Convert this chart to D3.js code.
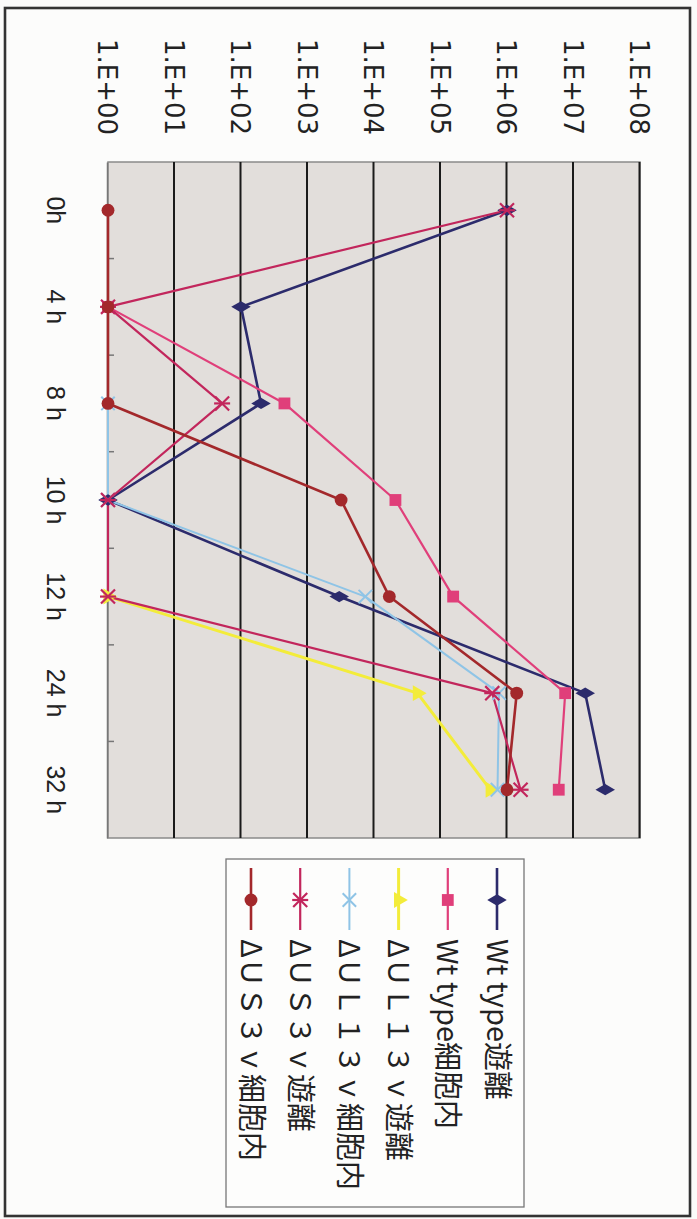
<!DOCTYPE html>
<html lang="ja">
<head>
<meta charset="utf-8">
<title>Log growth chart</title>
<script src="https://d3js.org/d3.v7.min.js"></script>
<style>
  body { margin: 0; background: #fbfbfa; }
  svg text { font-family: "Noto Sans CJK JP", "Noto Sans", sans-serif; fill: #222; }
  svg .axis text { font-family: "DejaVu Sans", sans-serif; }
  svg .cat text { font-family: "Liberation Sans", Arial, sans-serif; }
</style>
</head>
<body>
<svg width="697" height="1219"></svg>
<script>
// data
const categories = ["0h", "4 h", "8 h", "10 h", "12 h", "24 h", "32 h"];
const yTickValues = [1, 1e1, 1e2, 1e3, 1e4, 1e5, 1e6, 1e7, 1e8];
const yTickLabels = ["1.E+00", "1.E+01", "1.E+02", "1.E+03", "1.E+04", "1.E+05", "1.E+06", "1.E+07", "1.E+08"];
const seriesNames = ["Wt type遊離", "Wt type細胞内", "ΔＵＬ１３ｖ遊離", "ΔＵＬ１３ｖ細胞内", "ΔＵＳ３ｖ遊離", "ΔＵＳ３ｖ細胞内"];

const wtFree     = [1e6, 1e2, 2e2, 1, 3e3, 1.5e7, 3e7];
const wtCell     = [null, 1, 4.5e2, 2.1e4, 1.55e5, 7.5e6, 6e6];
const ul13Free   = [null, null, null, null, 1, 4.5e4, 5.6e5];
const ul13Cell   = [null, null, 1, 1, 7.4e3, 7.6e5, 7.2e5];
const us3Free    = [1e6, 1, 52, 1, 1, 6e5, 1.6e6];
const us3Cell    = [1, 1, 1, 3.2e3, 1.7e4, 1.4e6, 1e6];

const seriesValues = [wtFree, wtCell, ul13Free, ul13Cell, us3Free, us3Cell];
const seriesColors = ["#2c2b6c", "#e03f7a", "#f3ec3a", "#8fc4e6", "#c2265c", "#a3282b"];
const seriesMarkers = ["diamond", "square", "triangle", "x", "asterisk", "circle"];
const seriesWidths = [2.6, 2.2, 3, 2, 2.2, 2.6];

const svg = d3.select("svg");
const W = 697, H = 1219;

// the page is a scanned chart turned a quarter turn clockwise:
// draw it upright in a 1219 x 697 frame, then rotate
const g = svg.append("g").attr("transform", `translate(${W},0) rotate(90)`);

// outer frame
g.append("rect")
  .attr("x", 8).attr("y", 7).attr("width", 1208).attr("height", 685)
  .attr("fill", "#fcfcfb").attr("stroke", "#333").attr("stroke-width", 2.6);

const plot = { left: 162, right: 838, top: 57, bottom: 589 };

const x = d3.scaleBand().domain(categories).range([plot.left, plot.right]);
const y = d3.scaleLog().domain([1, 1e8]).range([plot.bottom, plot.top]);

// plot area
g.append("rect")
  .attr("x", plot.left).attr("y", plot.top)
  .attr("width", plot.right - plot.left).attr("height", plot.bottom - plot.top)
  .attr("fill", "#e2dedb").attr("stroke", "#8a8a8a").attr("stroke-width", 1.5);

// value axis + gridlines
const yAxis = g.append("g")
  .attr("class", "axis")
  .attr("transform", `translate(${plot.left},0)`)
  .call(d3.axisLeft(y)
    .tickValues(yTickValues)
    .tickFormat((d, i) => yTickLabels[i])
    .tickSize(-(plot.right - plot.left))
    .tickPadding(27));
yAxis.select(".domain").remove();
yAxis.selectAll(".tick line")
  .attr("stroke", d => d === 1 ? "none" : "#1a1a1a")
  .attr("stroke-width", 2);
yAxis.selectAll(".tick text")
  .style("font-size", "26px")
  .attr("dy", "0.36em");

// category axis
const xAxis = g.append("g")
  .attr("class", "cat")
  .attr("transform", `translate(0,${plot.bottom})`)
  .call(d3.axisBottom(x).tickSize(0).tickPadding(52));
xAxis.select(".domain").attr("stroke", "#777").attr("stroke-width", 1.5);
xAxis.selectAll(".tick text").style("font-size", "25px").attr("dy", "0.36em");

// small inside ticks between categories
g.append("g").selectAll("line")
  .data(categories.slice(1))
  .join("line")
  .attr("x1", d => x(d)).attr("x2", d => x(d))
  .attr("y1", plot.bottom).attr("y2", plot.bottom - 6)
  .attr("stroke", "#777").attr("stroke-width", 1.5);

// markers
function drawMarker(sel, type, color) {
  if (type === "diamond") {
    sel.append("path").attr("d", d3.symbol(d3.symbolDiamond, 110)()).attr("fill", color);
  } else if (type === "square") {
    sel.append("path").attr("d", d3.symbol(d3.symbolSquare, 140)()).attr("fill", color);
  } else if (type === "triangle") {
    sel.append("path").attr("d", d3.symbol(d3.symbolTriangle, 110)()).attr("fill", color);
  } else if (type === "circle") {
    sel.append("path").attr("d", d3.symbol(d3.symbolCircle, 130)()).attr("fill", color);
  } else if (type === "x") {
    sel.append("path").attr("d", d3.symbol(d3.symbolX, 120)())
      .attr("fill", "none").attr("stroke", color).attr("stroke-width", 2);
  } else if (type === "asterisk") {
    sel.append("path").attr("d", d3.symbol(d3.symbolX, 130)())
      .attr("fill", "none").attr("stroke", color).attr("stroke-width", 2.2);
    sel.append("line").attr("x1", 0).attr("x2", 0).attr("y1", -8).attr("y2", 8)
      .attr("stroke", color).attr("stroke-width", 2.2);
  }
}

const line = d3.line()
  .defined(d => d != null)
  .x((d, i) => x(categories[i]) + x.bandwidth() / 2)
  .y(d => y(d));

const series = seriesNames.map((name, k) => ({
  name, values: seriesValues[k], color: seriesColors[k],
  marker: seriesMarkers[k], width: seriesWidths[k]
}));

g.append("g").selectAll("path")
  .data(series)
  .join("path")
  .attr("d", s => line(s.values))
  .attr("fill", "none")
  .attr("stroke", s => s.color)
  .attr("stroke-width", s => s.width)
  .attr("stroke-linejoin", "round");

series.forEach(s => {
  s.values.forEach((v, i) => {
    if (v == null) return;
    const m = g.append("g")
      .attr("transform", `translate(${x(categories[i]) + x.bandwidth() / 2},${y(v)})`);
    drawMarker(m, s.marker, s.color);
  });
});

// legend
const legend = g.append("g");
legend.append("rect")
  .attr("x", 859).attr("y", 173).attr("width", 348).attr("height", 298)
  .attr("fill", "#fdfdfc").attr("stroke", "#777").attr("stroke-width", 1.3);

const legendY = d3.scalePoint().domain(seriesNames).range([200, 446]);

series.forEach(s => {
  const row = legend.append("g").attr("transform", `translate(0,${legendY(s.name)})`);
  row.append("line").attr("x1", 868).attr("x2", 930).attr("y1", 0).attr("y2", 0)
    .attr("stroke", s.color).attr("stroke-width", s.width);
  const m = row.append("g").attr("transform", "translate(900,0)");
  drawMarker(m, s.marker, s.color);
  row.append("text").attr("x", 939).attr("y", 0).attr("dy", "0.36em")
    .style("font-size", "29px").text(s.name);
});
</script>
</body>
</html>
